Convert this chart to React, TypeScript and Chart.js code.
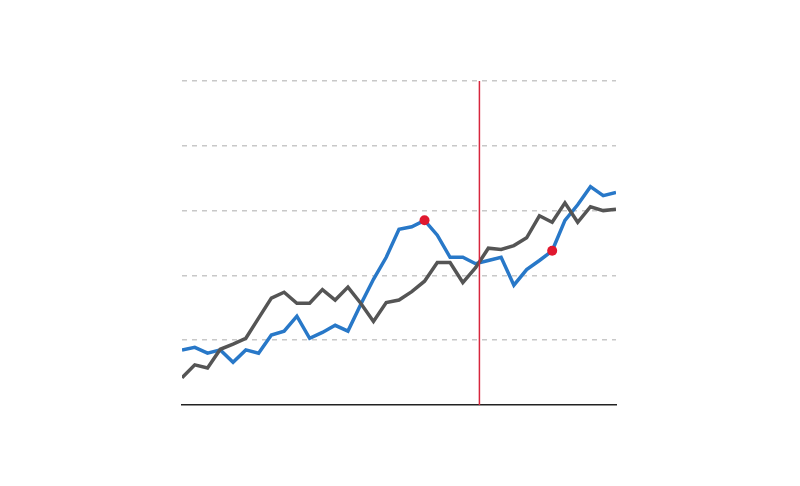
import React, { useEffect, useRef } from "react";
import { Chart, registerables } from "chart.js";
Chart.register(...registerables);

const xIndex: number[] = Array.from({ length: 35 }, (_, i) => i);
const grayValues = [0.42,0.62,0.57,0.86,0.94,1.03,1.34,1.65,1.74,1.57,1.57,1.78,1.62,1.82,1.57,1.29,1.58,1.62,1.75,1.91,2.2,2.2,1.89,2.12,2.42,2.4,2.46,2.58,2.92,2.82,3.12,2.82,3.06,3.0,3.02];
const blueValues = [0.85,0.89,0.8,0.85,0.66,0.85,0.8,1.08,1.14,1.37,1.03,1.12,1.23,1.14,1.55,1.94,2.28,2.71,2.75,2.85,2.62,2.28,2.28,2.18,2.23,2.28,1.85,2.09,2.23,2.38,2.85,3.09,3.37,3.23,3.28];
const highlightIdx = [19, 29];
const markerX = 23.3;

export default function App() {
  const ref = useRef<HTMLCanvasElement>(null);
  useEffect(() => {
    const vline = {
      id: "vline",
      afterDatasetsDraw(chart: any) {
        const { ctx, scales, chartArea } = chart;
        const x = scales.x.getPixelForValue(markerX);
        ctx.save();
        ctx.strokeStyle = "#d7263d";
        ctx.lineWidth = 1.5;
        ctx.beginPath();
        ctx.moveTo(x, chartArea.top);
        ctx.lineTo(x, chartArea.bottom);
        ctx.stroke();
        ctx.restore();
      },
    };
    const chart = new Chart(ref.current!, {
      type: "line",
      data: {
        datasets: [
          {
            data: blueValues.map((v, i) => ({ x: xIndex[i], y: v })),
            borderColor: "#2878c8",
            borderWidth: 3.5,
            pointRadius: blueValues.map((_, i) => (highlightIdx.includes(i) ? 5 : 0)),
            pointBackgroundColor: "#e0182f",
            pointBorderWidth: 0,
            tension: 0,
            order: 2,
          },
          {
            data: grayValues.map((v, i) => ({ x: xIndex[i], y: v })),
            borderColor: "#555555",
            borderWidth: 3.5,
            pointRadius: 0,
            tension: 0,
            order: 1,
          },
        ],
      },
      options: {
        animation: false,
        responsive: false,
        layout: { padding: { left: 182, right: 184, top: 81, bottom: 81 } },
        plugins: { legend: { display: false }, tooltip: { enabled: false } },
        scales: {
          x: {
            type: "linear",
            min: 0,
            max: 34,
            grid: { display: false, tickLength: 0 },
            ticks: { display: false, padding: 0 },
            border: { color: "#222", width: 1.5 },
          },
          y: {
            min: 0,
            max: 5,
            ticks: { display: false, stepSize: 1, padding: 0 },
            grid: { color: (c: any) => (c.tick.value === 0 ? "rgba(0,0,0,0)" : "#c8c8c8"), lineWidth: 1.5, tickLength: 0 },
            border: { display: false, dash: [5, 5] },
          },
        },
      },
      plugins: [vline],
    });
    return () => chart.destroy();
  }, []);
  return (
    <div style={{ position: "fixed", left: 0, top: 0, width: 800, height: 486, background: "#fff" }}>
      <canvas ref={ref} width={800} height={486} />
    </div>
  );
}
